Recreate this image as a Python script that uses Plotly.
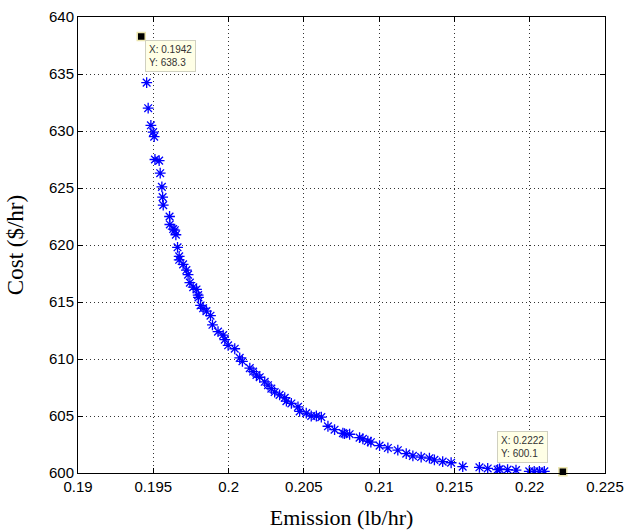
import plotly.graph_objects as go

emission = [0.19456, 0.19466, 0.19484, 0.19499, 0.19506, 0.19511, 0.19539, 0.19546,
            0.19557, 0.19562, 0.19566, 0.19608, 0.19610, 0.19632, 0.19643, 0.19650,
            0.19661, 0.19672, 0.19672, 0.19698, 0.19720, 0.19731, 0.19743, 0.19765,
            0.19787, 0.19798, 0.19800, 0.19814, 0.19831, 0.19853, 0.19880, 0.19893,
            0.19930, 0.19964, 0.19975, 0.19997, 0.20041, 0.20074, 0.20092, 0.20141,
            0.20163, 0.20185, 0.20207, 0.20240, 0.20262, 0.20284, 0.20306, 0.20339,
            0.20373, 0.20384, 0.20417, 0.20461, 0.20472, 0.20516, 0.20549, 0.20583,
            0.20616, 0.20660, 0.20704, 0.20759, 0.20770, 0.20804, 0.20870, 0.20892,
            0.20925, 0.20945, 0.21003, 0.21058, 0.21124, 0.21180, 0.21224, 0.21279,
            0.21334, 0.21367, 0.21422, 0.21478, 0.21555, 0.21666, 0.21721, 0.21787,
            0.21800, 0.21853, 0.21909, 0.21997, 0.22030, 0.22064, 0.22097]
cost = [634.24, 632.0, 630.5, 629.9, 629.5, 627.5, 627.4, 626.3,
        625.1, 624.2, 623.5, 622.5, 621.8, 621.4, 621.3, 620.9,
        619.8, 619.0, 618.7, 618.3, 617.8, 617.4, 616.7, 616.3,
        616.1, 615.6, 615.4, 614.7, 614.45, 614.2, 613.8, 613.0,
        612.4, 612.1, 611.7, 611.2, 610.9, 610.1, 609.8, 609.2,
        608.9, 608.6, 608.4, 608.0, 607.7, 607.4, 607.1, 606.85,
        606.6, 606.3, 606.1, 605.8, 605.4, 605.25, 605.0, 605.0,
        604.9, 604.1, 603.8, 603.5, 603.45, 603.4, 603.1, 603.0,
        602.8, 602.7, 602.4, 602.2, 602.0, 601.7, 601.5, 601.4,
        601.3, 601.15, 601.0, 600.9, 600.56, 600.5, 600.4, 600.3,
        600.35, 600.3, 600.25, 600.15, 600.15, 600.15, 600.15]

tip_x = [0.1942, 0.2222]
tip_y = [638.3, 600.1]
tip_text = ["X: 0.1942<br>Y: 638.3", "X: 0.2222<br>Y: 600.1"]

x_ticks = [0.19, 0.195, 0.2, 0.205, 0.21, 0.215, 0.22, 0.225]
x_labels = ["0.19", "0.195", "0.2", "0.205", "0.21", "0.215", "0.22", "0.225"]
y_ticks = [600, 605, 610, 615, 620, 625, 630, 635, 640]
y_labels = ["600", "605", "610", "615", "620", "625", "630", "635", "640"]

fig = go.Figure()
fig.add_trace(go.Scatter(
    x=emission, y=cost, mode="markers",
    marker=dict(symbol="asterisk-open", size=9, color="#0000ff",
                line=dict(color="#0000ff", width=1.3)),
    showlegend=False, hoverinfo="skip"))
fig.add_trace(go.Scatter(
    x=tip_x, y=tip_y, mode="markers",
    marker=dict(symbol="square", size=8, color="black",
                line=dict(color="#ece6b0", width=1.5)),
    showlegend=False, hoverinfo="skip", cliponaxis=False))

fig.add_annotation(x=tip_x[0], y=tip_y[0], xref="x", yref="y", text=tip_text[0],
                   showarrow=False, xanchor="left", yanchor="top", align="left",
                   xshift=4, yshift=-4,
                   font=dict(family="Liberation Sans, Arial", size=10, color="#333333"),
                   bgcolor="#ffffe6", bordercolor="#d0d0c0", borderwidth=1, borderpad=3)
fig.add_annotation(x=tip_x[1], y=tip_y[1], xref="x", yref="y", text=tip_text[1],
                   showarrow=False, xanchor="right", yanchor="bottom", align="left",
                   xshift=-15, yshift=9,
                   font=dict(family="Liberation Sans, Arial", size=10, color="#333333"),
                   bgcolor="#ffffe6", bordercolor="#d0d0c0", borderwidth=1, borderpad=3)

axis_common = dict(showline=True, linecolor="black", linewidth=1, mirror="ticks",
                   ticks="inside", ticklen=5, tickcolor="black", showgrid=True,
                   gridcolor="#333333", griddash="1px,3px", gridwidth=1, zeroline=False,
                   tickfont=dict(family="Liberation Sans, Arial", size=15, color="black"))

fig.update_xaxes(range=[0.19, 0.225], tickvals=x_ticks, ticktext=x_labels,
                 title=dict(text="Emission (lb/hr)", standoff=15,
                            font=dict(family="Liberation Serif, Times New Roman", size=22, color="black")),
                 automargin=False, **axis_common)
fig.update_yaxes(range=[600, 640], tickvals=y_ticks, ticktext=y_labels,
                 title=dict(text="Cost ($/hr)", standoff=18,
                            font=dict(family="Liberation Serif, Times New Roman", size=23, color="black")),
                 automargin=False, **axis_common)

fig.update_layout(width=624, height=531, plot_bgcolor="white", paper_bgcolor="white",
                  margin=dict(l=78, r=19, t=17, b=58))

fig.write_html("out.html", config={"displayModeBar": False},
               post_script="document.body.style.margin='0';document.body.style.overflow='hidden';")
